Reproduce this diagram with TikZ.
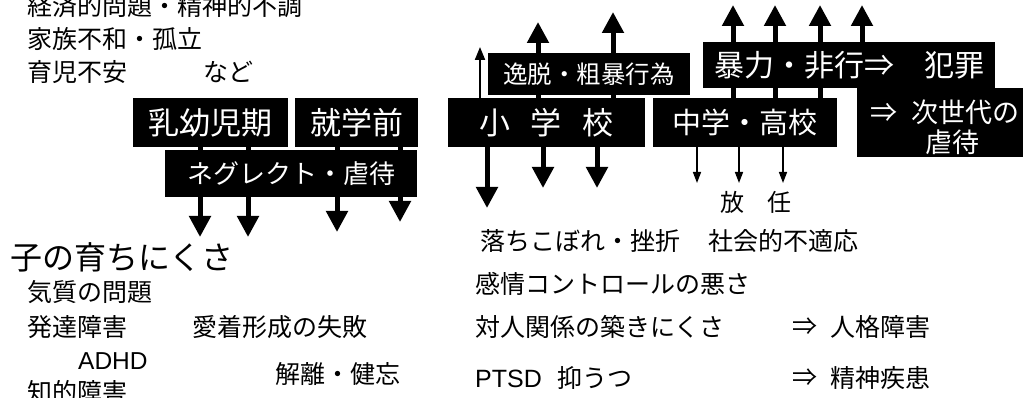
\documentclass[tikz,border=0pt]{standalone}
\usepackage{fontspec}
\setmainfont{Noto Sans CJK JP}
\newfontfamily\latin{Liberation Sans}
\usetikzlibrary{arrows.meta,backgrounds}
\begin{document}
\begin{tikzpicture}[x=1pt,y=-1pt,
  box/.style={fill=black,text=white,inner sep=0pt,font=\fontsize{31}{31}\selectfont},
  txt/.style={anchor=west,inner sep=0pt,font=\fontsize{25}{25}\selectfont},
  bigarrow/.style={line width=5pt,-{Triangle[width=21pt,length=21pt]}},
  thinarrow/.style={line width=1.5pt,-{Triangle[width=8pt,length=11pt]}}]
\useasboundingbox (0,0) rectangle (1023,398);

% top-left texts
\node[txt] (t1) at (27,6) {経済的問題・精神的不調};
\node[txt] (t2) at (27,39) {家族不和・孤立};
\node[txt] (t3) at (27,72) {育児不安};
\node[txt] (t3b) at (203,72) {など};

% boxes
\node[box,minimum width=155pt,minimum height=49pt] (B1) at (210.5,122.5) {乳幼児期};
\node[box,minimum width=123pt,minimum height=49pt] (B2) at (356.5,122.5) {就学前};
\node[box,minimum width=252pt,minimum height=47pt,font=\fontsize{26}{26}\selectfont] (N) at (291,173.5) {ネグレクト・虐待};
\node[box,minimum width=197pt,minimum height=49pt] (S) at (546.5,122.5) {小\hspace{21pt}学\hspace{21pt}校};
\node[box,minimum width=202pt,minimum height=42pt,font=\fontsize{24.5}{24.5}\selectfont] (D) at (589,74) {逸脱・粗暴行為};
\node[box,minimum width=184pt,minimum height=49pt,font=\fontsize{29}{29}\selectfont] (M) at (745,122.5) {中学・高校};
\node[box,minimum width=292pt,minimum height=46pt,font=\fontsize{30}{30}\selectfont] (V) at (849,65) {暴力・非行⇒　犯罪};
\node[box,minimum width=166pt,minimum height=69pt] (G) at (940,122.5) {};
\node[txt,text=white,font=\fontsize{27}{27}\selectfont] (G1) at (870,112) {⇒\hspace{14pt}次世代の};
\node[box,font=\fontsize{27}{27}\selectfont] (G2) at (952,142) {虐待};

% arrow end points
\coordinate (a1) at (200,237);
\coordinate (a2) at (248,237);
\coordinate (a3) at (337,232);
\coordinate (a4) at (400,222);
\coordinate (s1) at (487,208);
\coordinate (s2) at (543,188);
\coordinate (s3) at (597,188);
\coordinate (u0) at (480,47);
\coordinate (u1) at (538,22);
\coordinate (u2) at (613,12);
\coordinate (m1) at (733,5);
\coordinate (m2) at (775,5);
\coordinate (m3) at (820,5);
\coordinate (v1) at (862,5);
\coordinate (d1) at (697,183);
\coordinate (d2) at (739,183);
\coordinate (d3) at (783,183);

\begin{scope}[on background layer]
\fill[white] (0,0) rectangle (1023,398);
\draw[bigarrow] (B1.south -| a1) -- (a1);
\draw[bigarrow] (B1.south -| a2) -- (a2);
\draw[bigarrow] (B2.south -| a3) -- (a3);
\draw[bigarrow] (B2.south -| a4) -- (a4);
\draw[bigarrow] (S.south -| s1) -- (s1);
\draw[bigarrow] (S.south -| s2) -- (s2);
\draw[bigarrow] (S.south -| s3) -- (s3);
\draw[line width=2pt,-{Triangle[width=10pt,length=13pt]}] (S.north -| u0) -- (u0);
\draw[bigarrow] (S.north -| u1) -- (u1);
\draw[bigarrow] (S.north -| u2) -- (u2);
\draw[bigarrow] (M.north -| m1) -- (m1);
\draw[bigarrow] (M.north -| m2) -- (m2);
\draw[bigarrow] (M.north -| m3) -- (m3);
\draw[bigarrow] (V.north -| v1) -- (v1);
\draw[thinarrow] (M.south -| d1) -- (d1);
\draw[thinarrow] (M.south -| d2) -- (d2);
\draw[thinarrow] (M.south -| d3) -- (d3);
\end{scope}

\node[txt,font=\fontsize{24}{24}\selectfont] (hounin) at (720,202) {放\hspace{23pt}任};

% bottom-left texts
\node[txt,font=\fontsize{32}{32}\selectfont] (k0) at (10,257) {子の育ちにくさ};
\node[txt] (k1) at (27,292) {気質の問題};
\node[txt] (k2) at (27,327) {発達障害};
\node[txt] (k3) at (192,327) {愛着形成の失敗};
\node[txt,font=\fontsize{24.5}{24.5}\selectfont\latin] (k4) at (78,361) {ADHD};
\node[txt] (k5) at (27,392) {知的障害};
\node[txt] (k6) at (275,374) {解離・健忘};

% bottom-right texts
\node[txt] (r1) at (480,241) {落ちこぼれ・挫折};
\node[txt] (r1b) at (708,241) {社会的不適応};
\node[txt] (r2) at (475,284) {感情コントロールの悪さ};
\node[txt] (r3) at (475,327) {対人関係の築きにくさ};
\node[txt] (r3a) at (792,327) {⇒};
\node[txt] (r3b) at (830,327) {人格障害};
\node[txt] (r4) at (475,378) {{\latin PTSD}\hspace{16pt}抑うつ};
\node[txt] (r4a) at (792,378) {⇒};
\node[txt] (r4b) at (830,378) {精神疾患};
\end{tikzpicture}
\end{document}
